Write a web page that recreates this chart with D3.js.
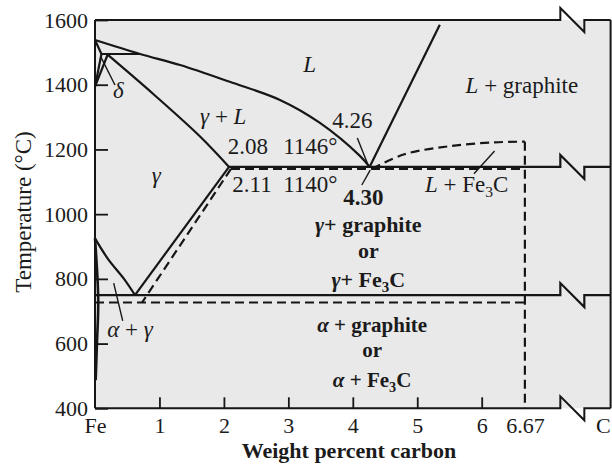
<!DOCTYPE html>
<html>
<head>
<meta charset="utf-8">
<script src="https://cdn.jsdelivr.net/npm/d3@7"></script>
<style>
  html, body { margin: 0; padding: 0; background: #fff; }
  svg { display: block; }
  text { font-family: "Liberation Serif", "Times New Roman", serif; fill: #1b1b1b; }
</style>
</head>
<body>
<svg id="chart" width="612" height="472"></svg>
<script>
// Iron–carbon phase diagram: solid lines = Fe–graphite, dashed lines = Fe–Fe3C

// axis ticks
const tempTicks = [400, 600, 800, 1000, 1200, 1400, 1600];
const carbonTicks = [0, 1, 2, 3, 4, 5, 6, 6.67, 8];
const carbonTickLabels = ["Fe", "1", "2", "3", "4", "5", "6", "6.67", "C"];
const carbonTickMarks = [1, 2, 3, 4, 5, 6];

// stable system boundaries [wt% C, °C]
const liquidus = [[0, 1538], [0.7, 1495], [1.32, 1461], [2.09, 1409], [2.87, 1353], [3.49, 1282], [4.11, 1180], [4.26, 1146]];
const deltaSolidus = [[0, 1538], [0.1, 1495]];
const peritectic = [[0.1, 1495], [0.7, 1495]];
const deltaSolvus = [[0.1, 1495], [0, 1394]];
const gammaDeltaLine = [[0.2, 1495], [0, 1394]];
const gammaSolidus = [[0.2, 1492], [0.9, 1372], [1.63, 1240], [2.08, 1146]];
const acmGraphite = [[2.08, 1146], [0.62, 750]];
const a3Line = [[0, 925], [0.2, 862], [0.45, 800], [0.62, 750]];
const alphaSolvus = [[0, 925], [0.05, 735], [0.03, 600], [0.01, 487]];
const graphiteLiquidus = [[4.26, 1146], [5.35, 1585]];
const eutecticGraphite = [2.08, 1146];   // start composition, temperature
const eutectoidGraphite = [0, 750];

// metastable (cementite) system
const acmCementite = [[2.11, 1140], [0.73, 727]];
const cementiteLiquidus = [[4.30, 1140], [4.8, 1185], [5.5, 1210], [6.2, 1222], [6.67, 1224]];
const eutecticCementite = [2.11, 6.67, 1140];  // from, to, temperature
const eutectoidCementite = [0, 6.67, 727];
const cementiteLine = [[6.67, 1224], [6.67, 400]];

// axis break on the carbon scale
const breakAt = 7.22;

const svg = d3.select("#chart");
const x = d3.scaleLinear().domain([0, 8]).range([95, 610.6]);
const y = d3.scaleLinear().domain([400, 1600]).range([408.3, 20]);

const INK = "#161616";
const FONT = '"Liberation Serif", "Times New Roman", serif';
const BW = 24, BH = 12;   // break-mark size in px

// plot background
svg.append("rect")
  .attr("x", x(0)).attr("y", y(1600))
  .attr("width", x(8) - x(0)).attr("height", y(400) - y(1600))
  .attr("fill", "#e9e9e9");

const line = d3.line().x(d => x(d[0])).y(d => y(d[1]));
const smooth = d3.line().x(d => x(d[0])).y(d => y(d[1])).curve(d3.curveCatmullRom.alpha(0.5));

const g = svg.append("g");

function draw(data, gen, dashed, width) {
  g.append("path").attr("d", gen(data))
    .attr("fill", "none").attr("stroke", INK)
    .attr("stroke-width", width || 2.2)
    .attr("stroke-linejoin", "round")
    .attr("stroke-dasharray", dashed ? "9,5" : null);
}

// horizontal line running across the axis break to the right edge
function brokenH(x0, t, width) {
  const yy = y(t), xb = x(breakAt);
  const d = `M${x(x0)},${yy}H${xb}V${yy - BH}L${xb + BW},${yy + BH}V${yy}H${x(8)}`;
  g.append("path").attr("d", d).attr("fill", "none").attr("stroke", INK)
    .attr("stroke-width", width || 2.2).attr("stroke-linejoin", "miter");
}

// frame
brokenH(0, 1600, 2);
brokenH(0, 400, 2);
g.append("path").attr("d", `M${x(0)},${y(1600)}V${y(400)}`).attr("stroke", INK).attr("stroke-width", 2);
g.append("path").attr("d", `M${x(8)},${y(1600)}V${y(400)}`).attr("stroke", INK).attr("stroke-width", 2);

// stable lines
draw(liquidus, smooth);
draw(deltaSolidus, line);
draw(peritectic, line);
draw(deltaSolvus, line);
draw(gammaDeltaLine, line);
draw(gammaSolidus, smooth);
draw(acmGraphite, line);
draw(a3Line, smooth);
draw(alphaSolvus, smooth, false, 2.6);
draw(graphiteLiquidus, line);
brokenH(eutecticGraphite[0], eutecticGraphite[1]);
brokenH(eutectoidGraphite[0], eutectoidGraphite[1]);

// metastable lines
draw(acmCementite, line, true);
draw(cementiteLiquidus, smooth, true);
draw([[eutecticCementite[0], eutecticCementite[2]], [eutecticCementite[1], eutecticCementite[2]]], line, true);
draw([[eutectoidCementite[0], eutectoidCementite[2]], [eutectoidCementite[1], eutectoidCementite[2]]], line, true);
draw(cementiteLine, line, true);

// leader lines
const leaders = [
  [[4.07, 1235], [4.24, 1150]],   // 4.26
  [[4.27, 1136], [4.14, 1090]],   // 4.30
  [[5.88, 1125], [6.2, 1195]],    // L + Fe3C
  [[0.31, 1399], [0.09, 1486]],   // delta
  [[0.29, 787], [0.43, 670]]      // alpha + gamma
];
leaders.forEach(l => draw(l, line, false, 1.4));

// axes
const yAxis = d3.axisLeft(y).tickValues(tempTicks).tickFormat(d3.format("d"))
  .tickSizeInner(-13).tickSizeOuter(0).tickPadding(7);
const yg = svg.append("g").attr("transform", `translate(${x(0)},0)`).call(yAxis);
yg.select(".domain").remove();
yg.selectAll("line").attr("stroke", INK).attr("stroke-width", 1.8);
yg.selectAll("text").attr("font-size", 22).attr("fill", "#1b1b1b").style("font-family", FONT);

const xAxis = d3.axisBottom(x).tickValues(carbonTicks)
  .tickFormat((d, i) => carbonTickLabels[i]).tickSizeInner(-11).tickSizeOuter(0).tickPadding(9);
const xg = svg.append("g").attr("transform", `translate(0,${y(400)})`).call(xAxis);
xg.select(".domain").remove();
xg.selectAll(".tick line").attr("stroke", INK).attr("stroke-width", 1.8)
  .attr("display", d => carbonTickMarks.includes(d) ? null : "none");
xg.selectAll("text").attr("font-size", 22).attr("fill", "#1b1b1b").style("font-family", FONT);
// the last label sits against the right edge of the page
xg.selectAll(".tick").filter(d => d === 8).select("text")
  .attr("text-anchor", "end").attr("x", -0.5);

// axis titles
svg.append("text").attr("x", 349).attr("y", 458).attr("text-anchor", "middle")
  .attr("font-size", 22).attr("font-weight", 600).text("Weight percent carbon");
svg.append("text").attr("transform", "translate(31,212) rotate(-90)")
  .attr("text-anchor", "middle").attr("font-size", 23).text("Temperature (°C)");

// region and point labels
function label(xv, tv, parts, opts) {
  opts = opts || {};
  const t = g.append("text").attr("x", x(xv)).attr("y", y(tv))
    .attr("font-size", opts.size || 23)
    .attr("text-anchor", opts.anchor || "start")
    .attr("font-weight", opts.bold ? "bold" : "normal");
  let shifted = false;
  parts.forEach(p => {
    const [str, kind] = Array.isArray(p) ? p : [p, ""];
    const ts = t.append("tspan").text(str);
    if (kind === "i") ts.attr("font-style", "italic");
    if (kind === "sub") { ts.attr("dy", 5).attr("font-size", "0.68em"); shifted = true; }
    else if (shifted) { ts.attr("dy", -5); shifted = false; }
  });
}

label(3.23, 1439, [["L", "i"]]);
label(0.28, 1359, [["δ", "i"]]);
label(1.63, 1279, [["γ", "i"], " + ", ["L", "i"]]);
label(2.06, 1186, ["2.08"]);
label(2.92, 1186, ["1146°"]);
label(3.68, 1266, ["4.26"]);
label(5.75, 1374, [["L", "i"], " + graphite"]);
label(0.88, 1097, [["γ", "i"]]);
label(2.13, 1068, ["2.11"]);
label(2.92, 1068, ["1140°"]);
label(3.85, 1028, ["4.30"], { bold: true });
label(4.24, 946, [["γ", "i"], "+ graphite"], { bold: true, anchor: "middle", size: 22 });
label(4.24, 865, ["or"], { bold: true, anchor: "middle", size: 22 });
label(4.24, 776, [["γ", "i"], "+ Fe", ["3", "sub"], "C"], { bold: true, anchor: "middle", size: 22 });
label(5.12, 1069, [["L", "i"], " + Fe", ["3", "sub"], "C"]);
label(4.30, 636, [["α", "i"], " + graphite"], { bold: true, anchor: "middle", size: 21 });
label(4.30, 559, ["or"], { bold: true, anchor: "middle", size: 21 });
label(4.30, 465, [["α", "i"], " + Fe", ["3", "sub"], "C"], { bold: true, anchor: "middle", size: 21 });
label(0.19, 620, [["α", "i"], " + ", ["γ", "i"]]);
</script>
</body>
</html>
